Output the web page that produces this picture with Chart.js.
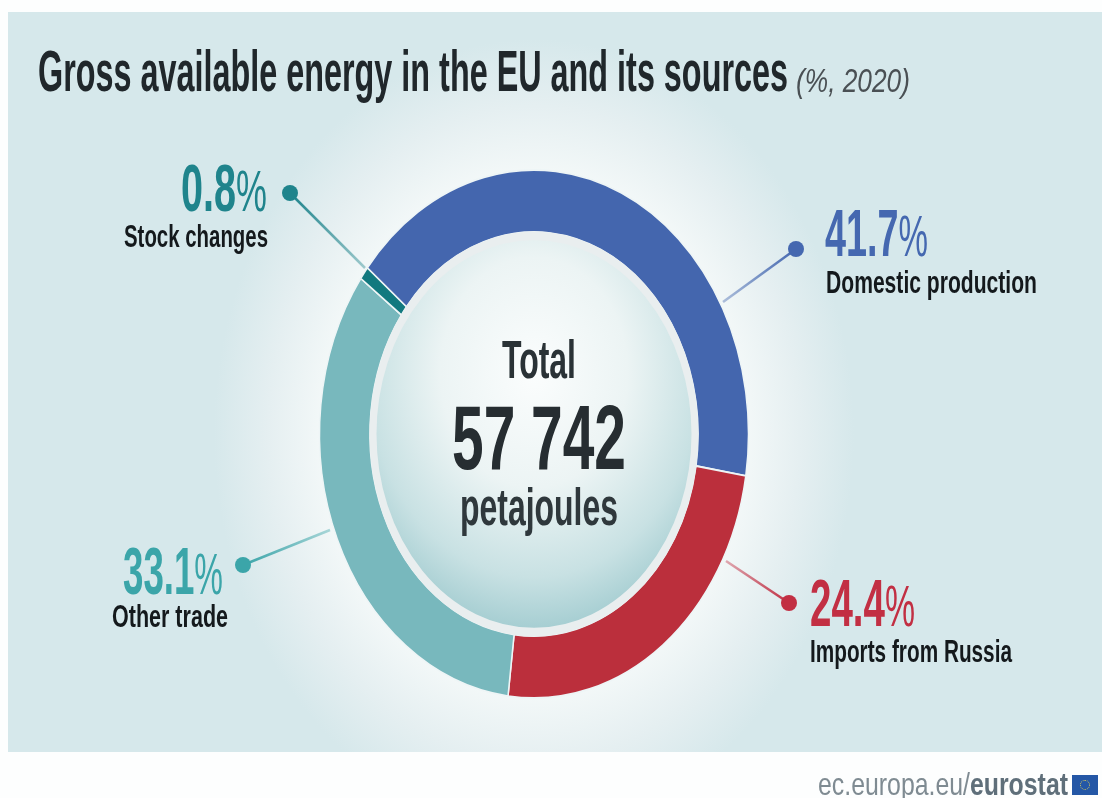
<!DOCTYPE html>
<html>
<head>
<meta charset="utf-8">
<title>Gross available energy in the EU and its sources</title>
<script src="https://cdn.jsdelivr.net/npm/chart.js@4"></script>
<style>
    html, body { margin: 0; padding: 0; background: #fdfefe; }
    #page { position: relative; width: 1102px; height: 798px; overflow: hidden; }
    #panel {
        position: absolute; left: 8px; top: 12px; width: 1094px; height: 740px;
        background: radial-gradient(ellipse 320px 395px at 526px 422px, #f8fbfb 0%, #f3f8f8 66%, #e5eff1 83%, #d6e8eb 100%);
    }
    #energyChart, #labels { position: absolute; left: 0; top: 0; }
    #flag {
        position: absolute; left: 1072px; top: 775px; width: 26px; height: 20px;
        background: #2457a6;
    }
    #flag::after {
        content: ''; position: absolute; left: 8px; top: 5px; width: 8px; height: 8px;
        border: 1px dotted #d8c85a; border-radius: 50%;
    }
</style>
</head>
<body>
<div id="page">
    <div id="panel"></div>
    <canvas id="energyChart" width="1102" height="798"></canvas>
    <svg id="labels" width="1102" height="798" xmlns="http://www.w3.org/2000/svg"></svg>
    <div id="flag"></div>
</div>
<script>
// Shares of gross available energy, clockwise from the top of the blue arc
const categories = ['Domestic production', 'Imports from Russia', 'Other trade', 'Stock changes'];
const shares = [41.7, 24.4, 33.1, 0.8];
const sliceColors = ['#4466ae', '#bb2f3c', '#78b8bd', '#12797f'];
const labelColors = ['#4568b0', '#c22f43', '#3ba5a9', '#1f848c'];
const totalValue = '57 742';

// Where each callout sits: dot, point on the ring, value text and name text
const callouts = [
    { dot: [796, 249], ring: [723, 302], value: [825, 256, 103], name: [826, 293, 211] },
    { dot: [789, 603], ring: [726, 561], value: [810, 626, 105], name: [810, 662, 202] },
    { dot: [243, 565], ring: [330, 530], value: [123, 594, 100], name: [112, 627, 116] },
    { dot: [290, 193], ring: [365, 268], value: [181, 211, 86], name: [124, 247, 144] }
];

const NARROW = '"Liberation Sans Narrow", "Liberation Sans", sans-serif';
const ringStretch = 264 / 214.5;

// The ring is taller than it is wide, so the arcs are drawn through a vertical stretch
const ellipseRing = {
    id: 'ellipseRing',
    beforeDatasetsDraw(chart) {
        const ctx = chart.ctx;
        callouts.forEach((c, i) => {
            const line = ctx.createLinearGradient(c.dot[0], c.dot[1], c.ring[0], c.ring[1]);
            line.addColorStop(0, labelColors[i]);
            line.addColorStop(1, labelColors[i] + '66');
            ctx.strokeStyle = line;
            ctx.lineWidth = 2.5;
            ctx.beginPath();
            ctx.moveTo(c.dot[0], c.dot[1]);
            ctx.lineTo(c.ring[0], c.ring[1]);
            ctx.stroke();
            ctx.fillStyle = labelColors[i];
            ctx.beginPath();
            ctx.arc(c.dot[0], c.dot[1], 8, 0, Math.PI * 2);
            ctx.fill();
        });

        const area = chart.chartArea;
        const cx = (area.left + area.right) / 2;
        const cy = (area.top + area.bottom) / 2;
        ctx.save();
        ctx.translate(cx, cy);
        ctx.scale(1, ringStretch);
        ctx.translate(-cx, -cy);
    },
    afterDatasetsDraw(chart) {
        const ctx = chart.ctx;
        const area = chart.chartArea;
        const cx = (area.left + area.right) / 2;
        const cy = (area.top + area.bottom) / 2;

        // centre disc with its pale rim
        const disc = ctx.createRadialGradient(cx, cy - 50, 0, cx, cy - 50, 208);
        disc.addColorStop(0, '#fbfdfd');
        disc.addColorStop(0.45, '#ecf4f4');
        disc.addColorStop(0.8, '#c8e1e3');
        disc.addColorStop(1, '#a6ced2');
        ctx.fillStyle = disc;
        ctx.beginPath();
        ctx.arc(cx, cy, 161, 0, Math.PI * 2);
        ctx.fill();
        ctx.strokeStyle = '#e9eeef';
        ctx.lineWidth = 7;
        ctx.stroke();
        ctx.restore();
    }
};

new Chart(document.getElementById('energyChart'), {
    type: 'doughnut',
    data: {
        labels: categories,
        datasets: [{
            data: shares,
            backgroundColor: sliceColors,
            borderColor: '#eef5f6',
            borderWidth: 1.5,
            radius: 214.5,
            cutout: '76.5%',
            clip: false
        }]
    },
    options: {
        responsive: false,
        animation: false,
        events: [],
        rotation: -51,
        layout: { padding: { top: 70, right: 34 } },
        plugins: { legend: { display: false }, tooltip: { enabled: false } }
    },
    plugins: [ellipseRing]
});

// Text goes into the overlay; textLength squeezes each line to its printed width
const svg = document.getElementById('labels');
function addText(parts, x, y, width, size, fill, weight, family, style) {
    const text = document.createElementNS('http://www.w3.org/2000/svg', 'text');
    text.setAttribute('x', x);
    text.setAttribute('y', y);
    text.setAttribute('textLength', width);
    text.setAttribute('lengthAdjust', 'spacingAndGlyphs');
    text.setAttribute('font-family', family || NARROW);
    text.setAttribute('font-size', size);
    text.setAttribute('font-weight', weight || 'bold');
    text.setAttribute('fill', fill);
    if (style) text.setAttribute('font-style', style);
    parts.forEach(part => {
        const span = document.createElementNS('http://www.w3.org/2000/svg', 'tspan');
        span.textContent = part.text;
        if (part.weight) span.setAttribute('font-weight', part.weight);
        if (part.size) span.setAttribute('font-size', part.size);
        text.appendChild(span);
    });
    svg.appendChild(text);
}

addText([{ text: 'Gross available energy in the EU and its sources' }], 38, 91, 750, 58, '#20272b');
addText([{ text: '(%, 2020)' }], 796, 92, 114, 33, '#4a5054', 'normal', NARROW, 'italic');

categories.forEach((name, i) => {
    const c = callouts[i];
    addText([{ text: shares[i].toFixed(1) }, { text: '%', weight: 'normal', size: 58 }],
        c.value[0], c.value[1], c.value[2], 66, labelColors[i]);
    addText([{ text: name }], c.name[0], c.name[1], c.name[2], 31, '#14191c');
});

addText([{ text: 'Total' }], 502, 378, 74, 54, '#2a3236');
addText([{ text: totalValue }], 452, 469, 174, 90, '#262d31');
addText([{ text: 'petajoules' }], 460, 525, 158, 51, '#2f383c');

addText([{ text: 'ec.europa.eu/', weight: 'normal' }, { text: 'eurostat' }], 818, 795, 250, 32,
    '#7f8b92', 'bold', '"Liberation Sans", sans-serif');
svg.lastChild.lastChild.setAttribute('fill', '#5f6f7a');
</script>
</body>
</html>
